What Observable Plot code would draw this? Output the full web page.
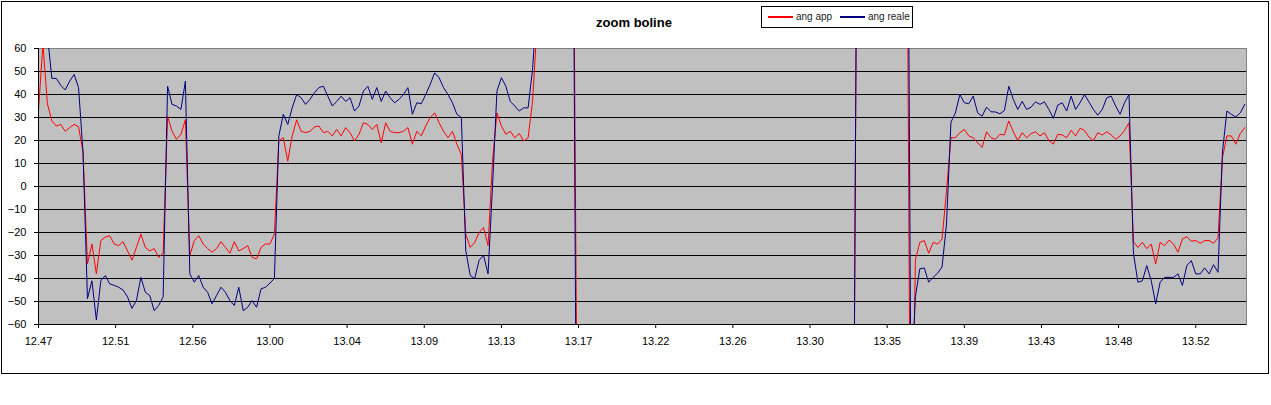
<!DOCTYPE html>
<html>
<head>
<meta charset="utf-8">
<script src="https://cdn.jsdelivr.net/npm/d3@7"></script>
<script src="https://cdn.jsdelivr.net/npm/@observablehq/plot@0.6"></script>
<style>
  html, body { margin: 0; padding: 0; background: #fff; }
  #wrap { position: relative; width: 1271px; height: 405px; overflow: hidden; font-family: Arial, "Liberation Sans", sans-serif; }
  #chart { position: absolute; left: 0; top: 0; }
  #title { position: absolute; left: 534px; top: 15px; width: 200px; text-align: center; font: bold 13px/15px Arial, "Liberation Sans", sans-serif; color: #000; }
  #legend { position: absolute; left: 761px; top: 6px; width: 152px; height: 22px; box-sizing: border-box; border: 1px solid #000; background: #fff; }
  .swatch { position: absolute; top: 9px; width: 25px; height: 2px; }
  .ltext { position: absolute; top: 4px; font: 10px/12px Arial, "Liberation Sans", sans-serif; color: #222; white-space: nowrap; }
  #border { position: absolute; left: 1px; top: 1px; width: 1268px; height: 373px; box-sizing: border-box; border: 1px solid #000; pointer-events: none; }
</style>
</head>
<body>
<div id="wrap">
  <div id="chart"></div>
  <div id="title"></div>
  <div id="legend"></div>
  <div id="border"></div>
</div>
<script>
// ---- data ----
const chartTitle = "zoom boline";
const seriesNames = ["ang app", "ang reale"];
const seriesColors = ["#ff0000", "#000080"];
const sampleStepMinutes = 0.25; // one reading every 15 s, starting at 12.47
const tickLabels = ["12.47","12.51","12.56","13.00","13.04","13.09","13.13","13.17","13.22","13.26","13.30","13.35","13.39","13.43","13.48","13.52"];
const tickStepMinutes = 260 / 60; // labels every 4 min 20 s
const xEndMinutes = 67.85;
const yTicks = [-60, -50, -40, -30, -20, -10, 0, 10, 20, 30, 40, 50, 60];
const gridValues = [-50, -40, -30, -20, -10, 0, 10, 20, 30, 40, 50];

const angApp = [
  33, 62, 36, 28.5, 26.3, 27, 24, 25.6, 27, 26,
  15, -33.7, -25, -38, -23.5, -22, -21.4, -25, -25.7, -24,
  -28, -32, -26.5, -20.7, -26.5, -28, -27, -30.8, -29, 30.6,
  24, 20.5, 22.7, 29, -30, -23.5, -21.4, -25, -27, -28.6,
  -27, -24, -26.5, -29, -24, -28, -27, -25.7, -30.8, -31.5,
  -26.5, -25, -25, -20.7, 20, 21.2, 11, 22, 29, 24,
  23.4, 24, 25.9, 26.3, 23.4, 24, 22, 24.8, 22, 25.6,
  23.4, 19.8, 22.7, 27.7, 27, 24.8, 27, 19, 27.7, 24,
  23.4, 23.4, 24, 25.6, 18.4, 24, 22, 26.3, 30, 32,
  27.7, 24, 21.2, 24, 18.4, 14, -20.7, -26.5, -24.3, -20,
  -17.8, -25.7, 11, 32, 26.3, 22.7, 24, 21.2, 23, 19.8,
  21.2, 37, 70, 170, 170, 170, 170, 170, 170, 170,
  170, -100, -170, -170, -170, -170, -170, -170, -170, -170,
  -170, -170, -170, -170, -170, -170, -170, -170, -170, -170,
  -170, -170, -170, -170, -170, -170, -170, -170, -170, -170,
  -170, -170, -170, -170, -170, -170, -170, -170, -170, -170,
  -170, -170, -170, -170, -170, -170, -170, -170, -170, -170,
  -170, -170, -170, -170, -170, -170, -170, -170, -170, -170,
  -170, -170, -170, -170, 170, 170, 170, 170, 170, 170,
  170, 170, 170, 170, 170, 170, -170, -32, -24.3, -23.5,
  -29, -24.3, -25, -22.8, -2, 21.2, 21.2, 23.4, 24.8, 22,
  21.2, 19, 17, 23.8, 21.2, 20.5, 22.7, 22.4, 28.5, 23.8,
  20, 23.4, 21.2, 23, 23.8, 22, 23.4, 20, 18.4, 22.7,
  22.4, 21.2, 24.4, 22, 25.3, 24.4, 21.5, 20, 23.4, 22.4,
  23.8, 22.4, 20.5, 22, 24.4, 27.7, -24, -26.5, -24.3, -27,
  -25, -33.7, -24.3, -25.7, -23.3, -25, -28.6, -22.8, -21.8, -23.8,
  -23.5, -24.7, -23.5, -23.5, -24.7, -22.4, 12.6, 22, 22, 18.4,
  23, 25.6
];

const angReale = [
  75, 70, 66, 47, 47, 44, 42, 45.8, 48.7, 43,
  15, -48.8, -41, -58, -41, -38.7, -42.3, -43, -43.8, -45,
  -48, -53, -49.6, -39.5, -46, -47.4, -54, -51.7, -48, 43.6,
  35.7, 35, 33.5, 45.8, -38, -41.6, -38.7, -43.8, -46, -51,
  -47.4, -43.8, -46, -49.6, -51.7, -43.8, -54, -52.5, -49.6, -52.5,
  -44.5, -43.8, -42, -40, 22, 31.4, 27, 34.2, 40, 38.6,
  35.7, 37.9, 40.8, 43, 43.6, 39.3, 35, 37, 39.3, 37,
  38.6, 32.8, 35, 41.5, 43.6, 37.9, 43, 37, 41.5, 38.6,
  36.4, 37.9, 40, 43, 31.4, 36.4, 36, 40, 44.4, 49.4,
  47.3, 43, 40, 36.4, 31.4, 30, -28, -38.7, -40, -32,
  -30, -38, 0, 41.5, 47.3, 43.6, 37, 35, 32.8, 34.2,
  34.2, 50.9, 80, 170, 170, 170, 170, 170, 170, 170,
  170, -170, -170, -170, -170, -170, -170, -170, -170, -170,
  -170, -170, -170, -170, -170, -170, -170, -170, -170, -170,
  -170, -170, -170, -170, -170, -170, -170, -170, -170, -170,
  -170, -170, -170, -170, -170, -170, -170, -170, -170, -170,
  -170, -170, -170, -170, -170, -170, -170, -170, -170, -170,
  -170, -170, -170, -170, -170, -170, -170, -170, -170, -170,
  -170, -170, -170, -170, 170, 170, 170, 170, 170, 170,
  170, 170, 170, 170, 170, 250, -90, -48, -35.8, -35.4,
  -41.6, -39.5, -37.7, -35, -16.3, 28, 32, 40, 36.4, 36,
  39.3, 32, 30.6, 34.5, 32.5, 32.4, 31.6, 33, 43.6, 37.9,
  33.5, 37, 33.5, 34.5, 36.8, 35.7, 36.8, 33.5, 29.6, 35.4,
  36.4, 32.8, 39.3, 33.5, 36.4, 40, 36.8, 33.5, 31, 33.5,
  38.6, 39.3, 35, 31.4, 36.4, 40, -29, -41.6, -41, -34.4,
  -41, -51, -41.6, -39.5, -39.5, -39.5, -38, -43, -34.4, -32.2,
  -38, -38, -35.4, -38, -34, -37.3, 15, 32.8, 31.4, 30.2,
  32, 35.7
];

// ---- build table ----
const rows = [];
[angApp, angReale].forEach((arr, s) => {
  arr.forEach((v, i) => rows.push({ t: i * sampleStepMinutes, v, series: seriesNames[s] }));
});
const xTickPos = tickLabels.map((_, k) => k * tickStepMinutes);

const chart = Plot.plot({
  width: 1271,
  height: 405,
  marginLeft: 38,
  marginRight: 25,
  marginTop: 48,
  marginBottom: 81,
  style: { fontFamily: "Arial, 'Liberation Sans', sans-serif", fontSize: "11px", color: "#000", background: "transparent" },
  x: { domain: [0, xEndMinutes], label: null },
  y: { domain: [-60, 60], label: null },
  color: { domain: seriesNames, range: seriesColors },
  marks: [
    Plot.frame({ fill: "#c0c0c0", stroke: "#808080" }),
    Plot.ruleY(gridValues, { stroke: "#000", strokeWidth: 1 }),
    Plot.line(rows, { x: "t", y: "v", z: "series", stroke: "series", strokeWidth: 1, clip: true }),
    Plot.ruleX([0], { stroke: "#000" }),
    Plot.ruleY([-60], { stroke: "#000" }),
    Plot.axisY({ ticks: yTicks, tickSize: 4, tickPadding: 8, label: null, fill: "#000", stroke: "#000" }),
    Plot.axisX({ ticks: xTickPos, tickFormat: d => tickLabels[xTickPos.indexOf(d)], tickSize: 4, tickPadding: 9, label: null, fill: "#000", stroke: "#000" })
  ]
});
document.getElementById("chart").appendChild(chart);

// ---- title and legend ----
document.getElementById("title").textContent = chartTitle;
const legend = d3.select("#legend");
const legendItems = [
  { name: seriesNames[0], color: seriesColors[0], sx: 6, tx: 34 },
  { name: seriesNames[1], color: seriesColors[1], sx: 78, tx: 106 }
];
legendItems.forEach(it => {
  legend.append("div").attr("class", "swatch")
    .style("left", it.sx + "px").style("background-color", it.color);
  legend.append("span").attr("class", "ltext")
    .style("left", it.tx + "px").text(it.name);
});
</script>
</body>
</html>
